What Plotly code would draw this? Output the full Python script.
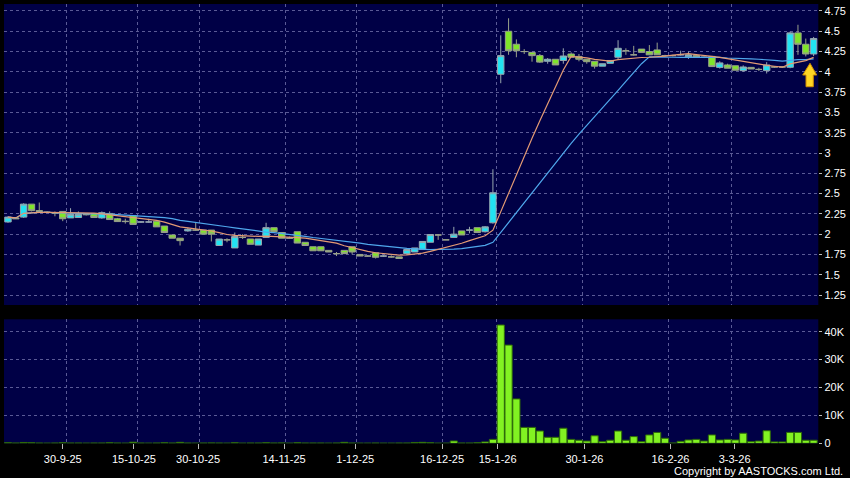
import plotly.graph_objects as go
import pandas as pd

# ---- data ----
opens = [2.15, 2.20, 2.21, 2.37, 2.29, 2.27, 2.26, 2.28, 2.20, 2.205,
         2.25, 2.255, 2.20, 2.255, 2.19, 2.16, 2.23, 2.15, 2.15, 2.16,
         2.10, 1.99, 1.95, 2.04, 2.05, 2.05, 2.05, 1.86, 1.93, 1.83,
         1.96, 1.94, 1.865, 1.96, 2.08, 2.02, 1.95, 2.03, 1.90, 1.845,
         1.845, 1.80, 1.76, 1.80, 1.845, 1.75, 1.73, 1.77, 1.73, 1.72,
         1.72, 1.76, 1.78, 1.81, 1.90, 1.99, 1.93, 1.96, 2.04, 2.05,
         2.08, 2.03, 2.14, 3.97, 4.50, 4.34, 4.25, 4.24, 4.20, 4.13,
         4.155, 4.14, 4.22, 4.19, 4.155, 4.13, 4.07, 4.105, 4.18, 4.26,
         4.21, 4.28, 4.25, 4.27, 4.20, 4.20, 4.21, 4.185, 4.20, 4.18,
         4.19, 4.055, 4.085, 4.075, 4.015, 4.055, 4.03, 4.015, 4.06, 4.06,
         4.056, 4.48, 4.34, 4.22]
highs = [2.22, 2.21, 2.38, 2.37, 2.39, 2.28, 2.28, 2.28, 2.32, 2.28,
         2.26, 2.26, 2.28, 2.28, 2.20, 2.19, 2.23, 2.16, 2.19, 2.16,
         2.10, 1.99, 1.95, 2.08, 2.15, 2.05, 2.05, 1.94, 1.95, 2.02,
         2.00, 1.94, 1.94, 2.14, 2.08, 2.02, 1.97, 2.03, 1.90, 1.845,
         1.845, 1.80, 1.78, 1.80, 1.845, 1.75, 1.74, 1.77, 1.74, 1.74,
         1.72, 1.81, 1.83, 1.91, 2.00, 2.00, 1.94, 2.09, 2.04, 2.09,
         2.08, 2.10, 2.80, 4.45, 4.66, 4.40, 4.28, 4.24, 4.22, 4.17,
         4.155, 4.29, 4.24, 4.22, 4.155, 4.13, 4.10, 4.14, 4.39, 4.29,
         4.32, 4.28, 4.33, 4.36, 4.21, 4.21, 4.26, 4.25, 4.20, 4.19,
         4.19, 4.13, 4.10, 4.075, 4.08, 4.055, 4.05, 4.12, 4.07, 4.07,
         4.495, 4.58, 4.41, 4.43]
lows = [2.14, 2.19, 2.20, 2.28, 2.28, 2.26, 2.22, 2.16, 2.20, 2.20,
        2.23, 2.20, 2.19, 2.18, 2.15, 2.13, 2.12, 2.14, 2.14, 2.09,
        2.02, 1.95, 1.86, 2.03, 2.04, 2.00, 1.91, 1.86, 1.90, 1.83,
        1.94, 1.875, 1.865, 1.96, 2.03, 1.95, 1.94, 1.89, 1.86, 1.795,
        1.795, 1.78, 1.73, 1.76, 1.75, 1.73, 1.72, 1.70, 1.72, 1.71,
        1.70, 1.76, 1.78, 1.81, 1.90, 1.93, 1.93, 1.96, 1.99, 2.01,
        2.02, 2.02, 2.13, 3.86, 4.21, 4.18, 4.22, 4.125, 4.11, 4.10,
        4.085, 4.10, 4.18, 4.13, 4.10, 4.04, 4.07, 4.105, 4.15, 4.21,
        4.20, 4.24, 4.21, 4.21, 4.19, 4.19, 4.20, 4.16, 4.18, 4.17,
        4.065, 4.04, 4.045, 4.02, 4.00, 4.035, 4.01, 3.98, 4.05, 4.05,
        4.044, 4.21, 4.19, 4.195]
closes = [2.21, 2.19, 2.37, 2.29, 2.28, 2.27, 2.26, 2.19, 2.245, 2.245,
          2.24, 2.205, 2.265, 2.18, 2.155, 2.155, 2.12, 2.15, 2.15, 2.09,
          2.02, 1.95, 1.92, 2.06, 2.05, 2.00, 2.00, 1.94, 1.93, 1.97,
          1.96, 1.875, 1.94, 2.08, 2.03, 1.95, 1.95, 1.89, 1.86, 1.795,
          1.795, 1.78, 1.76, 1.76, 1.78, 1.73, 1.73, 1.715, 1.73, 1.72,
          1.70, 1.81, 1.83, 1.91, 1.995, 1.99, 1.93, 2.00, 1.99, 2.05,
          2.02, 2.09, 2.51, 4.20, 4.26, 4.26, 4.25, 4.20, 4.12, 4.155,
          4.085, 4.195, 4.18, 4.155, 4.125, 4.07, 4.10, 4.14, 4.29, 4.26,
          4.21, 4.24, 4.21, 4.21, 4.20, 4.20, 4.21, 4.21, 4.18, 4.18,
          4.065, 4.11, 4.045, 4.02, 4.06, 4.035, 4.03, 4.085, 4.06, 4.06,
          4.48, 4.34, 4.22, 4.41]
volumes = [200, 100, 300, 200, 100, 50, 100, 200, 100, 100,
           50, 100, 100, 200, 100, 50, 400, 100, 50, 100,
           200, 100, 350, 100, 50, 100, 150, 100, 50, 200,
           50, 100, 100, 200, 100, 150, 50, 200, 100, 100,
           100, 50, 100, 350, 100, 50, 50, 100, 50, 50,
           100, 100, 300, 350, 200, 50, 50, 840, 100, 100,
           200, 500, 1400, 42400, 35200, 15900, 5700, 5700, 4400, 2150,
           2150, 5400, 1400, 1100, 800, 2700, 600, 1100, 4400, 1100,
           2400, 600, 3000, 3900, 1800, 100, 700, 1200, 1400, 800,
           3000, 1200, 1400, 1200, 3600, 600, 800, 4500, 500, 500,
           3900, 3900, 1100, 1100]

x_tick_labels = ["30-9-25", "15-10-25", "30-10-25", "14-11-25", "1-12-25",
                 "16-12-25", "15-1-26", "30-1-26", "16-2-26", "3-3-26"]
x_tick_pos = [7.0, 16.1, 24.3, 35.3, 44.4, 55.5, 62.6, 73.7, 84.7, 92.9]
x_grid_pos = [7.5, 16.5, 24.5, 35.5, 44.5, 55.5, 62.5, 73.5, 84.5, 92.5]
price_ticks = [1.25, 1.5, 1.75, 2.0, 2.25, 2.5, 2.75, 3.0, 3.25, 3.5, 3.75, 4.0, 4.25, 4.5, 4.75]
price_tick_labels = ["1.25", "1.5", "1.75", "2", "2.25", "2.5", "2.75", "3",
                     "3.25", "3.5", "3.75", "4", "4.25", "4.5", "4.75"]
vol_ticks = [0, 10000, 20000, 30000, 40000]
vol_tick_labels = ["0", "10K", "20K", "30K", "40K"]

# ---- derived ----
n = len(closes)
xs = list(range(n))
cs = pd.Series(closes)
ma10 = cs.rolling(10, min_periods=1).mean()
ma20 = cs.rolling(20, min_periods=1).mean()

W, H = 850, 478
FONT = "Liberation Sans, Arial, sans-serif"
NAVY = "#000046"
GRID = "#5a5a96"
xdom = [4 / W, 818.3 / W]
price_dom = [(H - 305) / H, (H - 4) / H]
vol_dom = [(H - 443.3) / H, (H - 319.3) / H]
xrange = [-0.51, n - 1 + 0.6]

fig = go.Figure()
fig.add_trace(go.Candlestick(
    x=xs, open=opens, high=highs, low=lows, close=closes,
    xaxis="x", yaxis="y",
    increasing=dict(fillcolor="#22e3f2", line=dict(color="#97a6ae", width=1)),
    decreasing=dict(fillcolor="#7fe52a", line=dict(color="#98a08a", width=1)),
    whiskerwidth=0, showlegend=False, hoverinfo="skip"))
fig.add_trace(go.Scatter(x=xs, y=ma20, mode="lines", xaxis="x", yaxis="y",
                         line=dict(color="#4fa7ec", width=1.2), showlegend=False, hoverinfo="skip"))
fig.add_trace(go.Scatter(x=xs, y=ma10, mode="lines", xaxis="x", yaxis="y",
                         line=dict(color="#e39a74", width=1.2), showlegend=False, hoverinfo="skip"))
fig.add_trace(go.Bar(x=xs, y=volumes, xaxis="x2", yaxis="y2", width=0.92,
                     marker=dict(color="#82f222", line=dict(color="#2e6a08", width=1)),
                     showlegend=False, hoverinfo="skip"))

common_x = dict(range=xrange, domain=xdom, showline=False, zeroline=False, showgrid=False,
                fixedrange=True,
                minor=dict(tickmode="array", tickvals=x_grid_pos, showgrid=True,
                           gridcolor=GRID, griddash="dot", gridwidth=1, ticks=""))

fig.update_layout(
    width=W, height=H,
    margin=dict(l=0, r=0, t=0, b=0, autoexpand=False),
    paper_bgcolor="#000000", plot_bgcolor=NAVY,
    boxgap=0.18, boxgroupgap=0,
    bargap=0,
    xaxis=dict(anchor="y", showticklabels=False, ticks="", rangeslider=dict(visible=False),
               **common_x),
    xaxis2=dict(anchor="y2", tickmode="array", tickvals=x_tick_pos, ticktext=x_tick_labels,
                ticks="outside", ticklen=5, tickcolor="#bbbbbb",
                tickfont=dict(family=FONT, size=11, color="#ffffff"),
                **common_x),
    yaxis=dict(domain=price_dom, range=[1.127, 4.836], side="right", anchor="x",
               tickmode="array", tickvals=price_ticks, ticktext=price_tick_labels,
               ticks="outside", ticklen=3, tickcolor="#bbbbbb",
               tickfont=dict(family=FONT, size=11, color="#ffffff"),
               showgrid=True, gridcolor=GRID, griddash="dot", gridwidth=1,
               zeroline=False, showline=False, fixedrange=True),
    yaxis2=dict(domain=vol_dom, range=[0, 44440], side="right", anchor="x2",
                tickmode="array", tickvals=vol_ticks, ticktext=vol_tick_labels,
                ticks="outside", ticklen=3, tickcolor="#bbbbbb",
                tickfont=dict(family=FONT, size=11, color="#ffffff"),
                showgrid=True, gridcolor=GRID, griddash="dot", gridwidth=1,
                zeroline=False, showline=False, fixedrange=True),
    annotations=[dict(text="Copyright by AASTOCKS.com Ltd.", xref="paper", yref="paper",
                      x=845 / W, y=(H - 471) / H, xanchor="right", yanchor="middle",
                      showarrow=False, font=dict(family=FONT, size=11, color="#ffffff"))],
    shapes=[dict(type="path", xref="x", yref="y", xsizemode="pixel", ysizemode="pixel",
                 xanchor=n - 1, yanchor=lows[-1],
                 path="M -3.6,-7.3 L -10.9,-19 L -7.6,-19 L -7.6,-30.7 L -0.3,-30.7 L -0.3,-19 L 3.1,-19 Z",
                 fillcolor="#ffd524", line=dict(color="#d08c00", width=1))],
)

fig.write_html("out.html", config={"displayModeBar": False, "staticPlot": True},
               post_script="document.body.style.margin='0';document.body.style.padding='0';"
                           "document.body.style.background='#000';")
